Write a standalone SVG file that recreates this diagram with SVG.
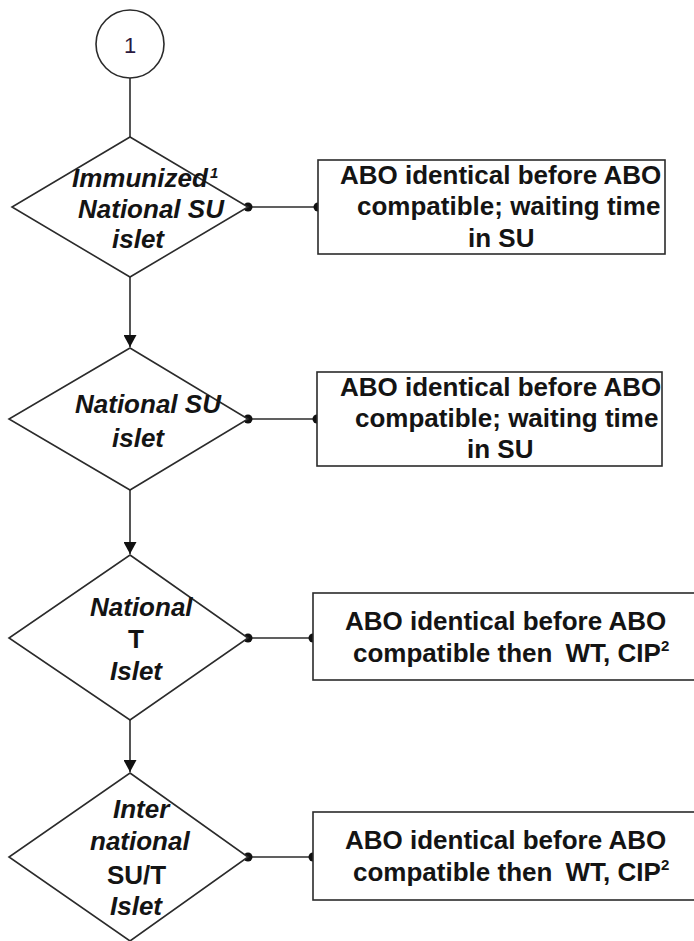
<svg xmlns="http://www.w3.org/2000/svg" width="694" height="941" viewBox="0 0 694 941">
  <style>
    .shape { fill: #ffffff; stroke: #2b2b2b; stroke-width: 1.6; }
    .wire { fill: none; stroke: #2b2b2b; stroke-width: 1.6; }
    .dot { fill: #111111; }
    .q { font-family: "Liberation Sans", Arial, sans-serif; font-size: 26px; font-weight: bold; font-style: italic; fill: #141414; }
    .up { font-style: normal; }
    .t { font-family: "Liberation Sans", Arial, sans-serif; font-size: 26px; font-weight: bold; fill: #141414; }
    .sup { font-size: 15px; }
    .num { font-family: "Liberation Sans", Arial, sans-serif; font-size: 22px; fill: #2a1a40; }
  </style>
  <defs>
    <marker id="arrow" markerWidth="13" markerHeight="13" refX="12" refY="6.5" orient="auto" markerUnits="userSpaceOnUse">
      <path d="M0,0 L12,6.5 L0,13 Z" fill="#111111"/>
    </marker>
  </defs>

  <!-- connectors -->
  <g id="connectors">
    <line class="wire" x1="130" y1="78" x2="130" y2="137"/>
    <line class="wire" x1="130" y1="277" x2="130" y2="347" marker-end="url(#arrow)"/>
    <line class="wire" x1="130" y1="490" x2="130" y2="554" marker-end="url(#arrow)"/>
    <line class="wire" x1="130" y1="720" x2="130" y2="772" marker-end="url(#arrow)"/>

    <line class="wire" x1="248" y1="207" x2="318" y2="207"/>
    <circle class="dot" cx="248" cy="207" r="4.5"/>
    <circle class="dot" cx="318" cy="207" r="4.5"/>

    <line class="wire" x1="248" y1="419" x2="317" y2="419"/>
    <circle class="dot" cx="248" cy="419" r="4.5"/>
    <circle class="dot" cx="317" cy="419" r="4.5"/>

    <line class="wire" x1="248" y1="638" x2="313" y2="638"/>
    <circle class="dot" cx="248" cy="638" r="4.5"/>
    <circle class="dot" cx="313" cy="638" r="4.5"/>

    <line class="wire" x1="248" y1="857" x2="313" y2="857"/>
    <circle class="dot" cx="248" cy="857" r="4.5"/>
    <circle class="dot" cx="313" cy="857" r="4.5"/>
  </g>

  <!-- start connector -->
  <g id="start">
    <circle class="shape" cx="130" cy="44" r="34"/>
    <text class="num" x="130" y="53" text-anchor="middle">1</text>
  </g>

  <!-- decisions -->
  <g id="decision-immunized">
    <polygon class="shape" points="130,137 248,207 130,277 12,207"/>
    <text class="q" x="72" y="187">Immunized</text>
    <text class="q sup" x="210" y="178">1</text>
    <text class="q" x="78" y="218">National SU</text>
    <text class="q" x="112" y="248">islet</text>
  </g>

  <g id="decision-national-su">
    <polygon class="shape" points="130,348 248,419 130,490 9,419"/>
    <text class="q" x="75" y="413">National SU</text>
    <text class="q" x="112" y="447">islet</text>
  </g>

  <g id="decision-national-t">
    <polygon class="shape" points="130,555 248,638 130,720 9,638"/>
    <text class="q" x="90" y="616">National</text>
    <text class="q up" x="128" y="648">T</text>
    <text class="q" x="110" y="680">Islet</text>
  </g>

  <g id="decision-international">
    <polygon class="shape" points="130,773 248,857 130,941 9,857"/>
    <text class="q" x="113" y="818">Inter</text>
    <text class="q" x="90" y="850">national</text>
    <text class="q up" x="107" y="884">SU/T</text>
    <text class="q" x="110" y="915">Islet</text>
  </g>

  <!-- allocation rules -->
  <g id="rule-immunized">
    <rect class="shape" x="318" y="160" width="347" height="94"/>
    <text class="t" x="340" y="184">ABO identical before ABO</text>
    <text class="t" x="357" y="215">compatible; waiting time</text>
    <text class="t" x="468" y="247">in SU</text>
  </g>

  <g id="rule-national-su">
    <rect class="shape" x="317" y="372" width="345" height="94"/>
    <text class="t" x="340" y="396">ABO identical before ABO</text>
    <text class="t" x="355" y="427">compatible; waiting time</text>
    <text class="t" x="467" y="458">in SU</text>
  </g>

  <g id="rule-national-t">
    <rect class="shape" x="313" y="593" width="390" height="87"/>
    <text class="t" x="345" y="630">ABO identical before ABO</text>
    <text class="t" x="353" y="662">compatible then <tspan dx="6">WT, CIP</tspan><tspan class="sup" dy="-11">2</tspan></text>
  </g>

  <g id="rule-international">
    <rect class="shape" x="313" y="812" width="390" height="88"/>
    <text class="t" x="345" y="849">ABO identical before ABO</text>
    <text class="t" x="353" y="881">compatible then <tspan dx="6">WT, CIP</tspan><tspan class="sup" dy="-11">2</tspan></text>
  </g>
</svg>
